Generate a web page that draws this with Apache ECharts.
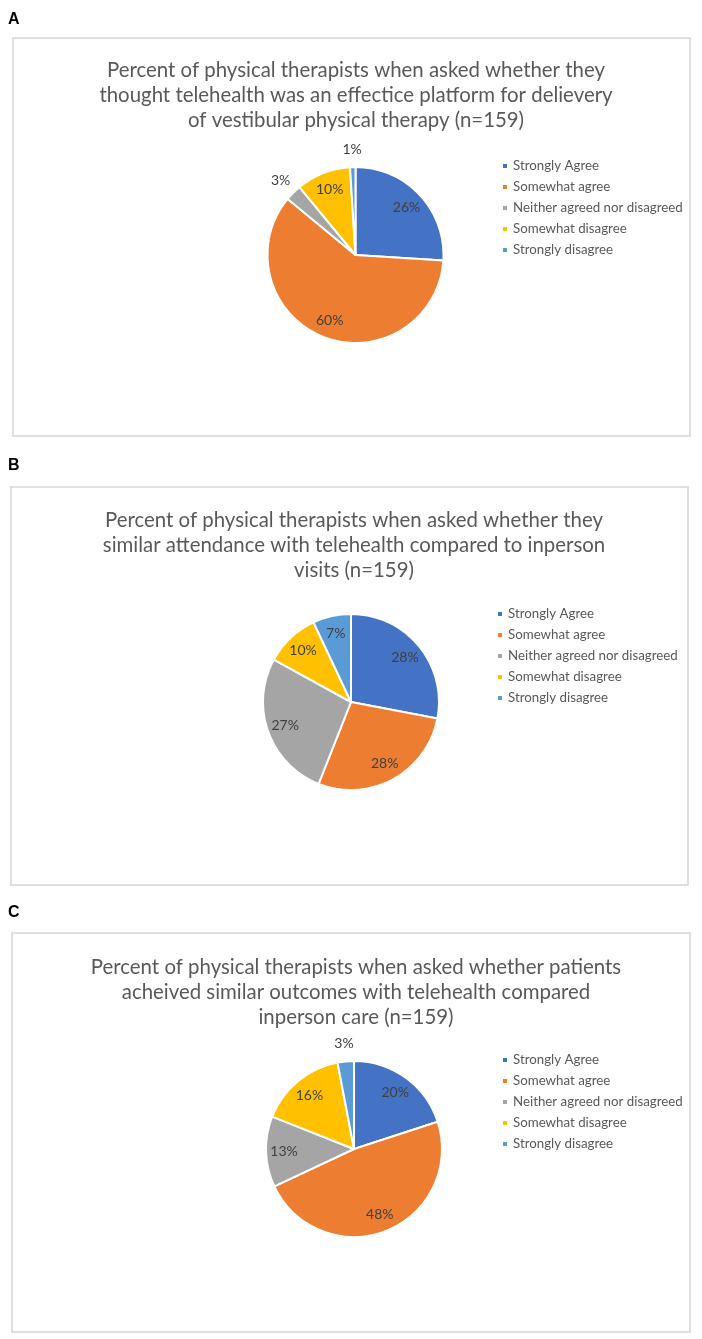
<!DOCTYPE html>
<html>
<head>
<meta charset="utf-8">
<script src="https://cdn.jsdelivr.net/npm/echarts@6/dist/echarts.min.js"></script>
<style>
html,body{margin:0;padding:0;background:#fff;}
#c{width:702px;height:1339px;}
</style>
</head>
<body>
<div id="c"></div>
<script>
const categories = ['Strongly Agree','Somewhat agree','Neither agreed nor disagreed','Somewhat disagree','Strongly disagree'];
const colors = ['#4472C4','#ED7D31','#A5A5A5','#FFC000','#5B9BD5'];
const valuesA = [26,60,3,10,1];
const valuesB = [28,28,27,10,7];
const valuesC = [20,48,13,16,3];
const outsideA = [false,false,true,false,true];
const outsideB = [false,false,false,false,false];
const outsideC = [false,false,false,false,true];
const titleA = ['Percent of physical therapists when asked whether they','thought telehealth was an effectice platform for delievery','of vestibular physical therapy (n=159)'];
const titleB = ['Percent of physical therapists when asked whether they','similar attendance with telehealth compared to inperson','visits (n=159)'];
const titleC = ['Percent of physical therapists when asked whether patients','acheived similar outcomes with telehealth compared','inperson care (n=159)'];
const letters = ['A','B','C'];

const panels = [
  {vals:valuesA, out:outsideA, title:titleA, letterY:20, box:[13,38,677,398], titleY:70, center:[355.5,255], legend:[501,158.5]},
  {vals:valuesB, out:outsideB, title:titleB, letterY:466, box:[11,487,677,398], titleY:520, center:[351,702], legend:[496,606.5]},
  {vals:valuesC, out:outsideC, title:titleC, letterY:913, box:[12,933,678,399], titleY:967, center:[354,1149], legend:[501,1052.5]}
];
const R = 88;
const FONT = 'Lato, "Liberation Sans", sans-serif';

const graphics = [];
const legends = [];
const series = [];
const overlays = [];
panels.forEach((p, i) => {
  graphics.push({type:'rect', shape:{x:p.box[0], y:p.box[1], width:p.box[2], height:p.box[3]},
    style:{fill:'#fff', stroke:'#D6D6D6', lineWidth:1.5}, z:-10});
  graphics.push({type:'text', x:8, y:p.letterY, style:{text:letters[i], font:'bold 16px "Liberation Sans", Arial, sans-serif', fill:'#000', textVerticalAlign:'middle'}});
  p.title.forEach((t, k) => {
    graphics.push({type:'text', x:356 - (i===1?2:0), y:p.titleY + k*25, style:{text:t, font:'20.4px ' + FONT, fill:'#595959', textAlign:'center', textVerticalAlign:'middle'}});
  });
  legends.push({
    orient:'vertical', left:p.legend[0], top:p.legend[1], padding:0, icon:'rect', itemWidth:6, itemHeight:6, itemGap:6,
    selectedMode:false,
    data: categories.map((c, j) => ({name:c, itemStyle:{color:colors[j]}})),
    textStyle:{fontFamily:FONT, fontSize:13.3, color:'#595959', lineHeight:15}
  });
  const data = categories.map((c, j) => ({name:c, value:p.vals[j], itemStyle:{color:colors[j]}}));
  series.push({
    type:'pie', center:p.center, radius:[0,R], startAngle:90, clockwise:true, silent:true,
    animation:false, label:{show:false}, labelLine:{show:false},
    itemStyle:{borderColor:'#fff', borderWidth:2}, data: data
  });
  overlays.push({
    type:'pie', center:p.center, radius:[46,R], startAngle:90, clockwise:true, silent:true, animation:false,
    avoidLabelOverlap:false, labelLine:{show:false}, itemStyle:{color:'rgba(0,0,0,0)', borderWidth:0},
    label:{position:'inside', formatter:'{c}%', fontFamily:FONT, fontSize:14, color:'#404040'},
    data: categories.map((c, j) => ({name:c, value:p.vals[j], label:{show:!p.out[j]}, itemStyle:{color:'rgba(0,0,0,0)'}})),
    z:5
  });
  overlays.push({
    type:'pie', center:p.center, radius:[R,118], startAngle:90, clockwise:true, silent:true, animation:false,
    avoidLabelOverlap:false, labelLine:{show:false}, itemStyle:{color:'rgba(0,0,0,0)', borderWidth:0},
    label:{position:'inside', formatter:'{c}%', fontFamily:FONT, fontSize:14, color:'#404040'},
    data: categories.map((c, j) => ({name:c, value:p.vals[j], label:{show:p.out[j]}, itemStyle:{color:'rgba(0,0,0,0)'}})),
    z:5
  });
});

const chart = echarts.init(document.getElementById('c'), null, {renderer:'canvas'});
chart.setOption({
  backgroundColor:'#fff',
  animation:false,
  graphic: graphics,
  legend: legends,
  series: series.concat(overlays)
});
</script>
</body>
</html>
